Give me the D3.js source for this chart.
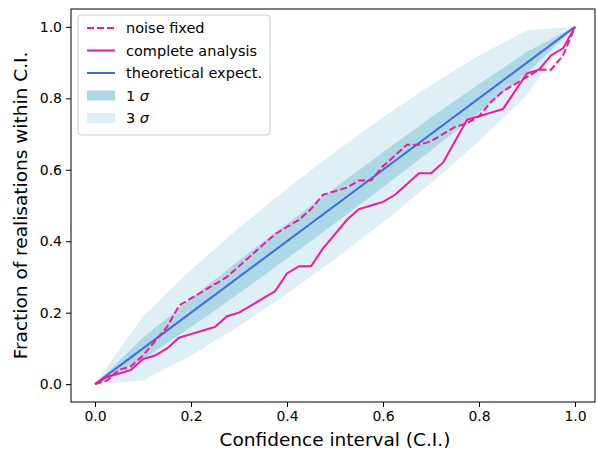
<!DOCTYPE html>
<html><head><meta charset="utf-8">
<script src="https://cdn.jsdelivr.net/npm/d3@7"></script>
<style>body{margin:0;background:#fff}svg{font-family:"DejaVu Sans",sans-serif}</style>
</head><body><div id="chart"></div>
<script>
// fraction within C.I.
const ciGrid = d3.range(0, 41).map(i => i / 40);
const completeAnalysis = [0,0.02,0.03,0.04,0.07,0.08,0.10,0.13,0.14,0.15,0.16,0.19,0.20,0.22,0.24,0.26,0.31,0.33,0.33,0.38,0.42,0.46,0.49,0.50,0.51,0.53,0.56,0.59,0.59,0.62,0.68,0.74,0.75,0.76,0.77,0.82,0.87,0.88,0.92,0.94,1.0];
const noiseFixed = [0,0.01,0.04,0.05,0.08,0.12,0.16,0.22,0.24,0.26,0.28,0.30,0.33,0.36,0.39,0.42,0.44,0.46,0.49,0.53,0.54,0.55,0.57,0.57,0.61,0.64,0.67,0.67,0.68,0.70,0.72,0.73,0.75,0.79,0.82,0.84,0.86,0.88,0.88,0.92,1.0];
const bandX = [0,0.1,0.2,0.3,0.4,0.5,0.6,0.7,0.8,0.9,1];
const sigma1Low = [0,0.07,0.16,0.254,0.351,0.45,0.551,0.654,0.76,0.87,1];
const sigma1High = [0,0.13,0.24,0.346,0.449,0.55,0.649,0.746,0.84,0.93,1];
const sigma3Low = [0,0.01,0.08,0.163,0.253,0.35,0.453,0.563,0.68,0.81,1];
const sigma3High = [0,0.19,0.32,0.437,0.547,0.65,0.747,0.837,0.92,0.99,1];
const ticks = [0,0.2,0.4,0.6,0.8,1.0];

const W = 596, H = 450;
const svg = d3.select("#chart").append("svg").attr("width", W).attr("height", H);
const x = d3.scaleLinear().domain([0, 1]).range([95, 575]);
const y = d3.scaleLinear().domain([-0.05, 1.05]).range([402, 9]);
const m = {left: x(-0.05), right: 595, top: 9, bottom: 402};

const area = (lo, hi) => d3.area().x((d, i) => x(bandX[i])).y0((d, i) => y(lo[i])).y1((d, i) => y(hi[i]))(bandX);
svg.append("path").attr("d", area(sigma3Low, sigma3High)).attr("fill", "#add8e6").attr("fill-opacity", 0.4);
svg.append("path").attr("d", area(sigma1Low, sigma1High)).attr("fill", "#add8e6");

const line = vals => d3.line().x((d, i) => x(ciGrid[i])).y(d => y(d))(vals);
svg.append("path").attr("d", d3.line()([[x(0), y(0)], [x(1), y(1)]])).attr("stroke", "#4169e1").attr("stroke-width", 2).attr("fill", "none");
svg.append("path").attr("d", line(completeAnalysis)).attr("stroke", "#ff1493").attr("stroke-width", 2).attr("fill", "none");
svg.append("path").attr("d", line(noiseFixed)).attr("stroke", "#ff1493").attr("stroke-width", 2).attr("stroke-dasharray", "7,3").attr("fill", "none");

const fmt = d3.format(".1f");
svg.append("g").attr("transform", `translate(0,${m.bottom})`)
  .call(d3.axisBottom(x).tickValues(ticks).tickFormat(fmt).tickSize(5).tickPadding(4))
  .call(g => g.select(".domain").remove())
  .selectAll("text").attr("font-size", 14).attr("font-family", "DejaVu Sans").attr("fill", "#000");
svg.append("g").attr("transform", `translate(${m.left},0)`)
  .call(d3.axisLeft(y).tickValues(ticks).tickFormat(fmt).tickSize(5).tickPadding(4))
  .call(g => g.select(".domain").remove())
  .selectAll("text").attr("font-size", 14).attr("font-family", "DejaVu Sans").attr("fill", "#000");
svg.append("rect").attr("x", m.left).attr("y", m.top).attr("width", m.right - m.left).attr("height", m.bottom - m.top)
  .attr("fill", "none").attr("stroke", "#000").attr("stroke-width", 1);

svg.append("text").attr("x", x(0.5)).attr("y", 446).attr("text-anchor", "middle").attr("font-size", 18.5).text("Confidence interval (C.I.)");
svg.append("text").attr("transform", `translate(27,${y(0.5)}) rotate(-90)`).attr("text-anchor", "middle").attr("font-size", 18.5).text("Fraction of realisations within C.I.");

// legend
const lg = svg.append("g").attr("transform", "translate(78,15)");
lg.append("rect").attr("width", 192).attr("height", 120).attr("rx", 3).attr("fill", "#fff").attr("fill-opacity", 0.8).attr("stroke", "#ccc");
const items = [
  {label: "noise fixed", kind: "dash"},
  {label: "complete analysis", kind: "solid"},
  {label: "theoretical expect.", kind: "blue"},
  {label: "1 ", sig: true, kind: "s1"},
  {label: "3 ", sig: true, kind: "s3"}
];
items.forEach((d, i) => {
  const yy = 13 + i * 22.5;
  const g = lg.append("g").attr("transform", `translate(9,${yy})`);
  if (d.kind === "s1" || d.kind === "s3") {
    g.append("rect").attr("y", -5).attr("width", 28).attr("height", 10).attr("fill", "#add8e6").attr("fill-opacity", d.kind === "s3" ? 0.4 : 1);
  } else {
    g.append("line").attr("x2", 28).attr("stroke", d.kind === "blue" ? "#4169e1" : "#ff1493").attr("stroke-width", 2)
      .attr("stroke-dasharray", d.kind === "dash" ? "7,3" : null);
  }
  const t = g.append("text").attr("x", 39).attr("y", 5).attr("font-size", 14.5).text(d.label);
  if (d.sig) t.append("tspan").attr("font-style", "italic").text("σ");
});
</script></body></html>
